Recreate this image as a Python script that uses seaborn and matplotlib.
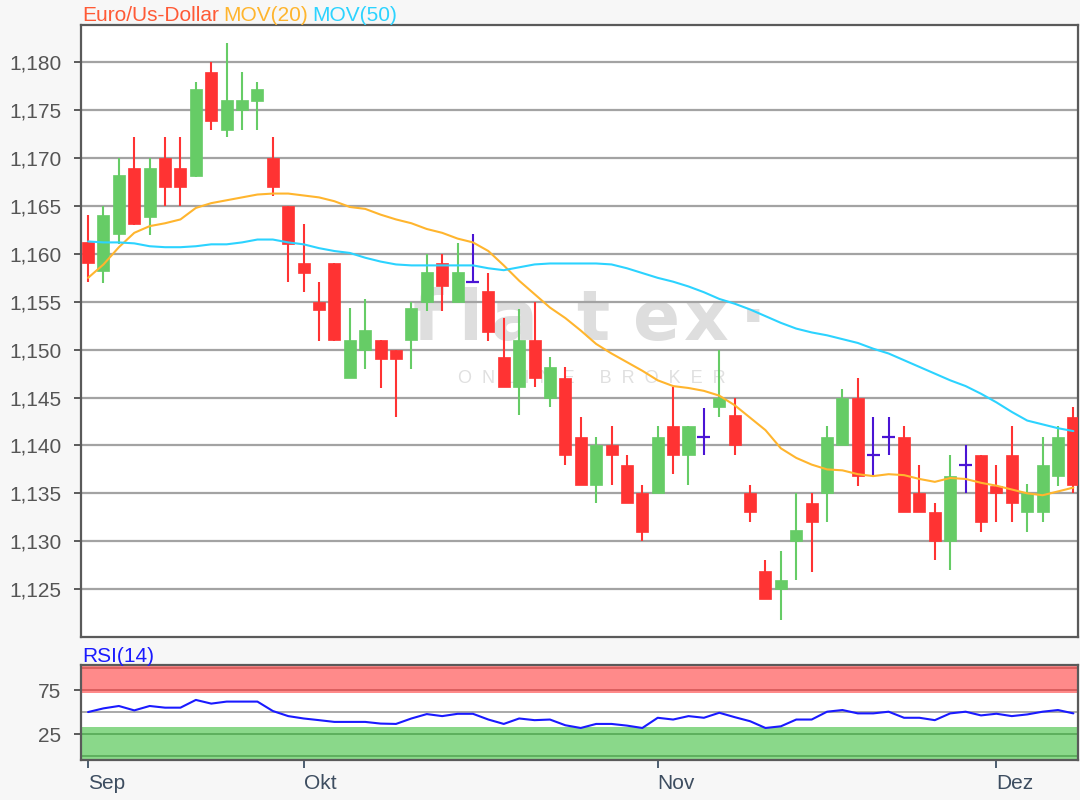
import numpy as np
import pandas as pd
import seaborn as sns
import matplotlib.pyplot as plt
from matplotlib.ticker import FuncFormatter

# Euro/US-Dollar daily candles

open_ = [1.1612, 1.1582, 1.1621, 1.1690, 1.1639, 1.1700, 1.1690, 1.1681, 1.1790, 1.1729,
         1.1750, 1.1760, 1.1700, 1.1650, 1.1590, 1.1550, 1.1590, 1.1470, 1.1500, 1.1510,
         1.1500, 1.1510, 1.1550, 1.1590, 1.1550, 1.1571, 1.1561, 1.1492, 1.1461, 1.1510,
         1.1450, 1.1470, 1.1409, 1.1359, 1.1400, 1.1380, 1.1350, 1.1350, 1.1420, 1.1390,
         1.1409, 1.1440, 1.1432, 1.1350, 1.1269, 1.1250, 1.1300, 1.1340, 1.1350, 1.1400,
         1.1450, 1.1390, 1.1409, 1.1409, 1.1350, 1.1330, 1.1300, 1.1380, 1.1390, 1.1358,
         1.1390, 1.1330, 1.1330, 1.1368, 1.1430]
high = [1.1641, 1.1650, 1.1700, 1.1722, 1.1700, 1.1722, 1.1722, 1.1780, 1.1800, 1.1820,
        1.1790, 1.1780, 1.1722, 1.1650, 1.1631, 1.1571, 1.1590, 1.1543, 1.1553, 1.1510,
        1.1500, 1.1550, 1.1600, 1.1600, 1.1611, 1.1621, 1.1580, 1.1533, 1.1542, 1.1550,
        1.1492, 1.1482, 1.1430, 1.1409, 1.1420, 1.1390, 1.1359, 1.1420, 1.1461, 1.1420,
        1.1439, 1.1500, 1.1450, 1.1359, 1.1280, 1.1290, 1.1350, 1.1350, 1.1420, 1.1459,
        1.1470, 1.1430, 1.1430, 1.1420, 1.1380, 1.1340, 1.1390, 1.1400, 1.1390, 1.1380,
        1.1420, 1.1360, 1.1409, 1.1420, 1.1440]
low = [1.1571, 1.1570, 1.1610, 1.1630, 1.1620, 1.1650, 1.1650, 1.1680, 1.1729, 1.1722,
       1.1729, 1.1729, 1.1660, 1.1571, 1.1560, 1.1509, 1.1509, 1.1470, 1.1480, 1.1460,
       1.1430, 1.1480, 1.1540, 1.1540, 1.1550, 1.1571, 1.1509, 1.1461, 1.1432, 1.1461,
       1.1440, 1.1380, 1.1359, 1.1340, 1.1359, 1.1340, 1.1300, 1.1350, 1.1370, 1.1359,
       1.1390, 1.1430, 1.1390, 1.1320, 1.1240, 1.1218, 1.1260, 1.1268, 1.1320, 1.1400,
       1.1358, 1.1368, 1.1390, 1.1330, 1.1330, 1.1280, 1.1270, 1.1350, 1.1310, 1.1320,
       1.1320, 1.1310, 1.1320, 1.1358, 1.1350]
close = [1.1590, 1.1641, 1.1682, 1.1631, 1.1690, 1.1670, 1.1670, 1.1772, 1.1739, 1.1761,
         1.1761, 1.1772, 1.1670, 1.1610, 1.1580, 1.1541, 1.1510, 1.1510, 1.1521, 1.1490,
         1.1490, 1.1543, 1.1581, 1.1566, 1.1581, 1.1571, 1.1518, 1.1461, 1.1510, 1.1470,
         1.1482, 1.1390, 1.1359, 1.1400, 1.1390, 1.1340, 1.1310, 1.1409, 1.1390, 1.1420,
         1.1409, 1.1450, 1.1400, 1.1330, 1.1240, 1.1260, 1.1312, 1.1320, 1.1409, 1.1450,
         1.1368, 1.1390, 1.1409, 1.1330, 1.1330, 1.1300, 1.1368, 1.1380, 1.1320, 1.1350,
         1.1340, 1.1350, 1.1380, 1.1409, 1.1359]

mov20 = [1.1575, 1.1589, 1.1607, 1.1622, 1.1629, 1.1632, 1.1636, 1.1648, 1.1653, 1.1656,
         1.1659, 1.1662, 1.1663, 1.1663, 1.1661, 1.1659, 1.1655, 1.1649, 1.1647, 1.1641,
         1.1636, 1.1632, 1.1626, 1.1622, 1.1616, 1.1612, 1.1603, 1.1588, 1.1572, 1.1558,
         1.1544, 1.1533, 1.1520, 1.1506, 1.1496, 1.1487, 1.1478, 1.1468, 1.1462, 1.1460,
         1.1457, 1.1452, 1.1442, 1.1429, 1.1416, 1.1397, 1.1387, 1.1380, 1.1375, 1.1374,
         1.1370, 1.1368, 1.1370, 1.1369, 1.1365, 1.1362, 1.1366, 1.1365, 1.1361, 1.1358,
         1.1354, 1.1350, 1.1348, 1.1352, 1.1356]
mov50 = [1.1613, 1.1612, 1.1612, 1.1611, 1.1608, 1.1607, 1.1607, 1.1608, 1.1610, 1.1610,
         1.1612, 1.1615, 1.1615, 1.1612, 1.1610, 1.1606, 1.1603, 1.1601, 1.1596, 1.1592,
         1.1589, 1.1588, 1.1588, 1.1588, 1.1588, 1.1588, 1.1585, 1.1583, 1.1586, 1.1589,
         1.1590, 1.1590, 1.1590, 1.1590, 1.1589, 1.1585, 1.1580, 1.1575, 1.1571, 1.1566,
         1.1560, 1.1553, 1.1548, 1.1542, 1.1535, 1.1528, 1.1522, 1.1518, 1.1515, 1.1511,
         1.1507, 1.1501, 1.1496, 1.1489, 1.1482, 1.1475, 1.1468, 1.1462, 1.1454, 1.1445,
         1.1435, 1.1426, 1.1422, 1.1418, 1.1415]
rsi14 = [50, 54.2, 56.9, 51.9, 56.9, 55, 55, 63.8, 59.6, 61.9,
         61.9, 61.9, 51.2, 45.4, 42.7, 40.8, 38.8, 38.8, 38.8, 36.9,
         36.5, 42.7, 47.7, 45.4, 48, 48, 41.5, 36.5, 42.7, 40.8,
         41.5, 35, 31.9, 36.5, 36.5, 34.6, 31.9, 43.5, 41.5, 45.4,
         43.5, 49.2, 44.2, 39.6, 31.9, 33.8, 41.5, 41.5, 50.4, 52.3,
         48.5, 48.5, 50.4, 43.5, 43.5, 40.8, 48.5, 50.4, 46.2, 48.1,
         45.4, 47.3, 50.4, 52.3, 48.5]

month_labels = ['Sep', 'Okt', 'Nov', 'Dez']
month_pos = [0, 14, 37, 59]
price_ticks = [1.125, 1.130, 1.135, 1.140, 1.145, 1.150, 1.155, 1.160, 1.165, 1.170, 1.175, 1.180]

# Style

sns.set_theme(style='white')
plt.rcParams['font.family'] = ['Liberation Sans', 'DejaVu Sans']

UP = '#66cc66'
DOWN = '#ff3333'
DOJI = '#4a14d4'
GRID = '#a3a3a3'
SPINE = '#5a5a5a'
TXT = '#555555'

df = pd.DataFrame({'idx': np.arange(len(close)), 'open': open_, 'high': high,
                   'low': low, 'close': close, 'mov20': mov20, 'mov50': mov50, 'rsi': rsi14})
df['dir'] = np.sign(df['close'] - df['open'])
colors = df['dir'].map({1: UP, -1: DOWN, 0: DOJI})

fig = plt.figure(figsize=(10.8, 8), dpi=100, facecolor='#f7f7f7')
W, H = 1080, 800
left, right = 81, 1078
ax = fig.add_axes([left / W, 1 - 637 / H, (right - left) / W, (637 - 25) / H])
ax_rsi = fig.add_axes([left / W, 1 - 760 / H, (right - left) / W, (760 - 665) / H])

xlim = (-0.46, 64.3)

# Watermark (broker logo), letters placed by pixel centre
def px(x):
    return (x - left) / (right - left)

for ch, xc in zip('flatex\u00b7', [428, 470, 515, 593, 657, 706, 753]):
    ax.text(px(xc), 0.485, ch, transform=ax.transAxes, ha='center', va='baseline',
            fontsize=50, fontweight='bold', family='DejaVu Sans', color='#dedede', zorder=0.2)
ax.text(px(592), 0.422, '  '.join('ONLINE') + '     ' + '  '.join('BROKER'),
        transform=ax.transAxes, ha='center', va='center', fontsize=13,
        color='#e0e0e0', zorder=0.2)

# Candles
ax.vlines(df['idx'], df['low'], df['high'], colors=colors, lw=1.5, zorder=3)
body = df[df['dir'] != 0]
ax.bar(body['idx'], (body['close'] - body['open']).abs(),
       bottom=body[['open', 'close']].min(axis=1), width=0.78,
       color=colors[body.index], edgecolor=colors[body.index], lw=0.5, zorder=4)
doji = df[df['dir'] == 0]
ax.hlines(doji['close'], doji['idx'] - 0.42, doji['idx'] + 0.42, colors=DOJI, lw=1.6, zorder=4)

# Moving averages
sns.lineplot(data=df, x='idx', y='mov20', ax=ax, color='#ffb52e', lw=1.5, zorder=5)
sns.lineplot(data=df, x='idx', y='mov50', ax=ax, color='#2cd3ff', lw=1.5, zorder=5)

ax.set_xlim(xlim)
ax.set_ylim(1.1200, 1.1839)
ax.set_yticks(price_ticks)
ax.yaxis.set_major_formatter(FuncFormatter(lambda v, p: f'{v:.3f}'.replace('.', ',')))
ax.set_xticks([])
ax.set_xlabel('')
ax.set_ylabel('')
ax.set_axisbelow(True)
ax.grid(axis='y', color=GRID, lw=1.6)
ax.tick_params(axis='y', left=True, length=5, width=1.4, color=SPINE, labelsize=15,
               labelcolor=TXT, pad=9)
ax.set_facecolor('white')
for s in ax.spines.values():
    s.set_color(SPINE)
    s.set_linewidth(1.6)

# Title in three colours
t1 = ax.annotate('Euro/Us-Dollar', xy=(0, 1), xycoords='axes fraction', xytext=(1, 3),
                 textcoords='offset points', fontsize=15, color='#ff5a36', va='baseline')
t2 = ax.annotate('MOV(20)', xy=(1, 0), xycoords=t1, xytext=(3, 0), textcoords='offset points',
                 fontsize=15, color='#ffb52e', va='bottom')
ax.annotate('MOV(50)', xy=(1, 0), xycoords=t2, xytext=(3, 0), textcoords='offset points',
            fontsize=15, color='#2cd3ff', va='bottom')

# RSI panel
ax_rsi.set_facecolor('white')
ax_rsi.axhspan(72, 104, color='#ff8a8a', lw=0, zorder=0.5)
ax_rsi.axhspan(-5, 32.5, color='#8ad88a', lw=0, zorder=0.5)
for y in (100, 75):
    ax_rsi.axhline(y, color='#d95c5c', lw=1.3, zorder=0.8)
for y in (25, 0):
    ax_rsi.axhline(y, color='#5aac5a', lw=1.3, zorder=0.8)
ax_rsi.axhline(50, color=GRID, lw=1.3, zorder=0.8)
sns.lineplot(data=df, x='idx', y='rsi', ax=ax_rsi, color='#1a1aff', lw=1.5, zorder=3)
ax_rsi.set_xlim(xlim)
ax_rsi.set_ylim(-4.5, 103.5)
ax_rsi.set_yticks([25, 75])
ax_rsi.set_xticks(month_pos)
ax_rsi.set_xticklabels(month_labels, ha='left')
ax_rsi.set_xlabel('')
ax_rsi.set_ylabel('')
ax_rsi.tick_params(axis='y', left=True, length=5, width=1.4, color=SPINE, labelsize=15,
                   labelcolor=TXT, pad=9)
ax_rsi.tick_params(axis='x', bottom=True, length=6, width=1.4, color='#4c5d70', labelsize=15,
                   labelcolor='#3d4d60', pad=4)
for s in ax_rsi.spines.values():
    s.set_color(SPINE)
    s.set_linewidth(1.6)
ax_rsi.annotate('RSI(14)', xy=(0, 1), xycoords='axes fraction', xytext=(1, 2),
                textcoords='offset points', fontsize=15, color='#1a1aff', va='baseline')

plt.savefig('out.png', dpi=100, facecolor=fig.get_facecolor())
